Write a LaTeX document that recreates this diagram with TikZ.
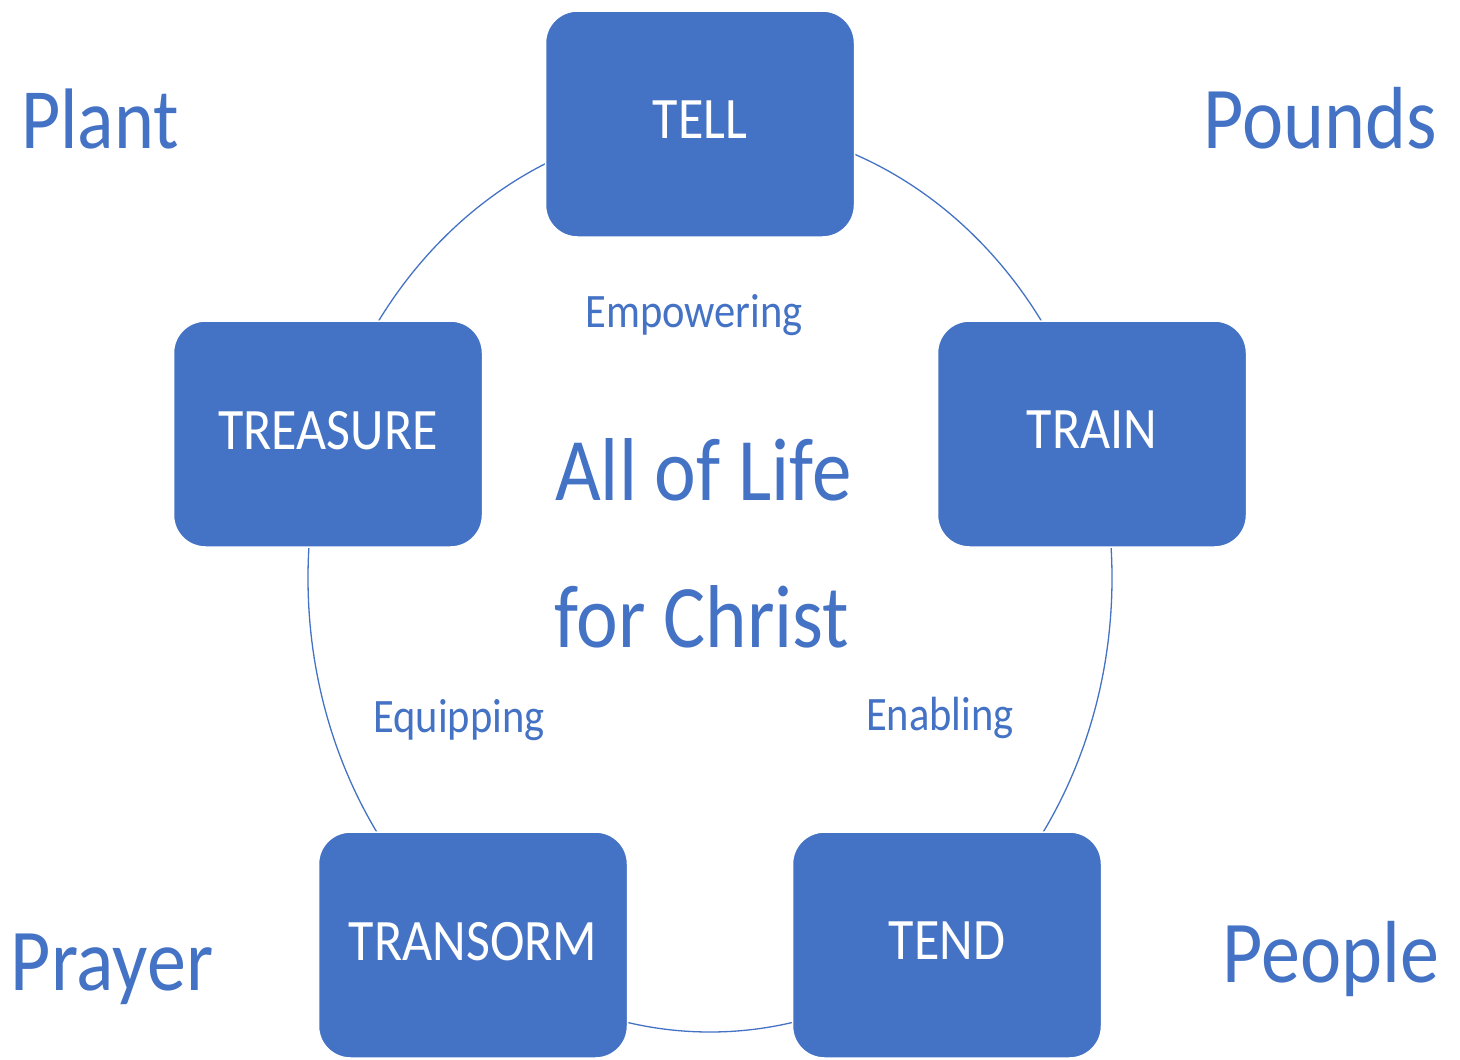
\documentclass[tikz,border=0pt]{standalone}
\usepackage{fontspec}
\setmainfont{Carlito}
\usepackage{graphicx}
\definecolor{cycleblue}{HTML}{4472C4}
\newcommand{\tallword}[1]{\scalebox{1}[1.13]{#1}}

\begin{document}
\begin{tikzpicture}[x=1pt,y=-1pt,
  stagebox/.style={fill=cycleblue,draw=white,line width=1.5pt,rounded corners=32pt,
    minimum width=309pt,minimum height=226pt,inner sep=0pt,text depth=8pt,
    text=white,font=\fontsize{52}{60}\selectfont},
  bigword/.style={text=cycleblue,inner sep=0pt,font=\fontsize{78}{90}\selectfont},
  smallword/.style={text=cycleblue,inner sep=0pt,anchor=base,font=\fontsize{42.5}{50}\selectfont},
  cycleline/.style={draw=cycleblue,line width=1.3pt}]
  \useasboundingbox (0,0) rectangle (1460,1060);
  \coordinate (hub) at (710,578);
  \draw [cycleline] (hub) ellipse [x radius=402pt,y radius=454pt];
  % the five stages
  \node [stagebox] (tell) at (700,124) {\tallword{TELL}};
  \node [stagebox] (treasure) at (328,434) {\tallword{TREASURE}};
  \node [stagebox] (train) at (1092,434) {\tallword{TRAIN}};
  \node [stagebox] (transorm) at (473,945) {\tallword{TRANSORM}};
  \node [stagebox] (tend) at (947,945) {\tallword{TEND}};
  % words inside the cycle
  \node [smallword] (empowering) at (694,327) {\tallword{Empowering}};
  \node [smallword] (equipping) at (459,732) {\tallword{Equipping}};
  \node [smallword] (enabling) at (940,730) {\tallword{Enabling}};
  \node [bigword,anchor=base west,font=\fontsize{79}{90}\selectfont] (life) at (555,500) {\tallword{All of Life}};
  \node [bigword,anchor=base west,font=\fontsize{79}{90}\selectfont] (christ) at (554,647) {\tallword{for Christ}};
  % corners
  \node [bigword,anchor=base,font=\fontsize{76}{90}\selectfont] (plant) at (100,148) {\tallword{Plant}};
  \node [bigword,anchor=base] (pounds) at (1320,148) {\tallword{Pounds}};
  \node [bigword,anchor=base] (prayer) at (112,990) {\tallword{Prayer}};
  \node [bigword,anchor=base] (people) at (1331,982) {\tallword{People}};
\end{tikzpicture}
\end{document}
